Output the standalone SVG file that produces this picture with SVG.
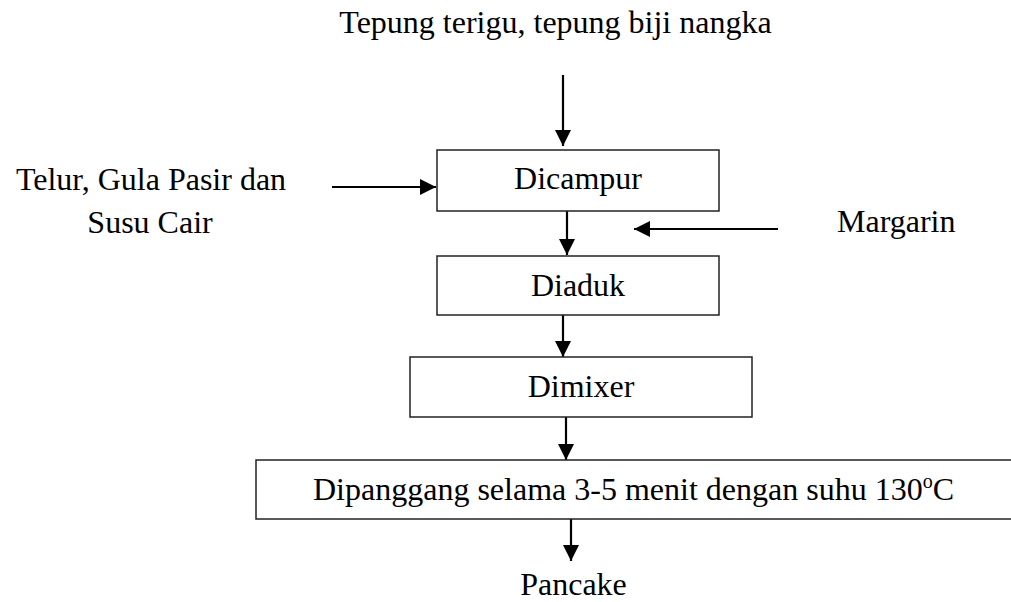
<svg xmlns="http://www.w3.org/2000/svg" width="1011" height="602" viewBox="0 0 1011 602">
<defs>
<marker id="ah" markerWidth="16" markerHeight="16" refX="16" refY="8" orient="auto" markerUnits="userSpaceOnUse">
<path d="M0,0 L16,8 L0,16 z" fill="#000"/>
</marker>
<style>
text{font-family:"Liberation Serif","Times New Roman",serif;font-size:32px;fill:#000}
.box{fill:#fff;stroke:#222;stroke-width:1.5}
.c{stroke:#000;stroke-width:2.2;fill:none;marker-end:url(#ah)}
</style>
</defs>
<rect width="1011" height="602" fill="#fff"/>
<g id="connectors">
<line class="c" x1="563" y1="75" x2="563" y2="146"/>
<line class="c" x1="332" y1="187" x2="436" y2="187"/>
<line class="c" x1="567" y1="211" x2="567" y2="255"/>
<line class="c" x1="778" y1="229" x2="634" y2="229"/>
<line class="c" x1="563" y1="315" x2="563" y2="357"/>
<line class="c" x1="566" y1="417" x2="566" y2="460"/>
<line class="c" x1="571" y1="519" x2="571" y2="561"/>
</g>
<g id="title"><text x="555.5" y="33" text-anchor="middle">Tepung terigu, tepung biji nangka</text></g>
<g id="telur"><text x="151" y="190" text-anchor="middle">Telur, Gula Pasir dan</text><text x="150" y="233" text-anchor="middle">Susu Cair</text></g>
<g id="margarin"><text x="837" y="232">Margarin</text></g>
<g id="dicampur"><rect class="box" x="437" y="150" width="282" height="61"/><text x="578" y="189" text-anchor="middle">Dicampur</text></g>
<g id="diaduk"><rect class="box" x="437" y="256" width="282" height="59"/><text x="578" y="296" text-anchor="middle">Diaduk</text></g>
<g id="dimixer"><rect class="box" x="410" y="357" width="342" height="60"/><text x="581" y="397" text-anchor="middle">Dimixer</text></g>
<g id="dipanggang"><rect class="box" x="256" y="460" width="756" height="59"/><text x="313" y="500">Dipanggang selama 3-5 menit dengan suhu 130<tspan font-size="20" dy="-12">o</tspan><tspan dy="12">C</tspan></text></g>
<g id="pancake"><text x="573.5" y="595" text-anchor="middle">Pancake</text></g>
</svg>
